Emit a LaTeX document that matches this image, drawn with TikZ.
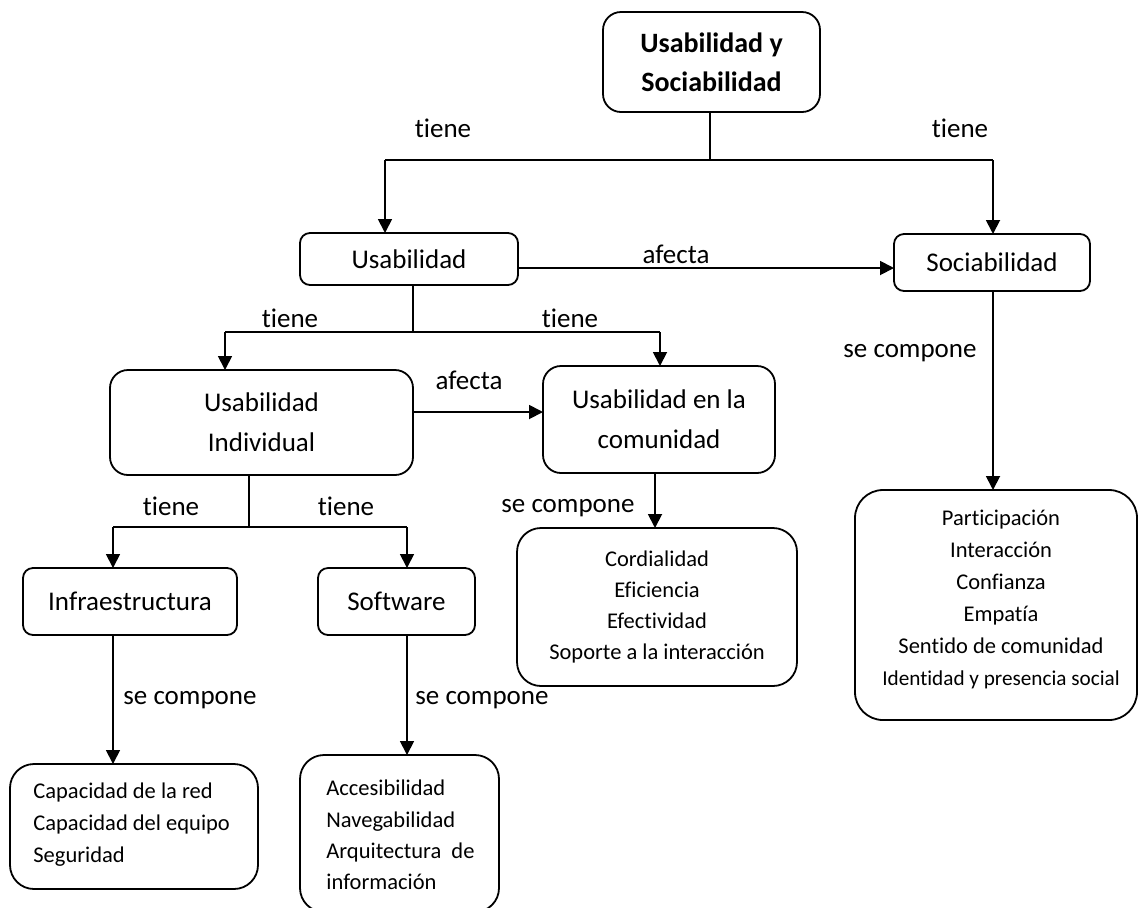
\documentclass[tikz,border=0pt]{standalone}
\usepackage{fontspec}
\setmainfont{Carlito}[Ligatures=NoCommon]
\usetikzlibrary{arrows.meta}
\begin{document}
\begin{tikzpicture}[x=0.5pt,y=-0.5pt,
  box/.style={draw, line width=0.9pt, rounded corners=#1, inner sep=0pt, outer sep=0pt, align=center},
  box/.default=5pt,
  conn/.style={line width=0.9pt},
  arr/.style={conn, -{Triangle[length=7pt,width=7pt]}},
  big/.style={font=\fontsize{13.5}{20}\selectfont},
  lbl/.style={big, inner sep=0pt},
  listtext/.style={inner sep=0pt, font=\fontsize{11.25}{#1}\selectfont},
  ]
\useasboundingbox (0,0) rectangle (1140,907);

% boxes
\node[box=9pt, minimum width=108.5pt, minimum height=50pt,
      font=\bfseries\fontsize{14}{19.5}\selectfont] (title) at (711.5,62) {Usabilidad y\\Sociabilidad};
\node[box, big, minimum width=109pt, minimum height=26pt] (usab) at (409,259) {Usabilidad};
\node[box, big, minimum width=98pt, minimum height=28.5pt] (socia) at (992,262.5) {Sociabilidad};
\node[box=9pt, big, minimum width=151.5pt, minimum height=52.5pt] (usabInd) at (261.5,422.5) {Usabilidad\\Individual};
\node[box=9pt, big, minimum width=116pt, minimum height=53.5pt] (usabCom) at (659,419.5) {Usabilidad en la\\comunidad};
\node[box, big, minimum width=107pt, minimum height=33.5pt] (infra) at (130,601.5) {Infraestructura};
\node[box, big, minimum width=78.5pt, minimum height=33.5pt] (soft) at (396.5,601.5) {Software};
\node[box=12pt, minimum width=124pt, minimum height=62.5pt] (capac) at (134,826.5) {};
\node[box=12pt, minimum width=99.5pt, minimum height=78.5pt] (acces) at (399.5,833.5) {};
\node[box=12pt, minimum width=140pt, minimum height=79pt] (cordial) at (657,607) {};
\node[box=14pt, minimum width=141pt, minimum height=115pt] (partic) at (996,605) {};

% list contents
\node[listtext=16pt, align=left, anchor=west] (capacT) at (33,825)
  {Capacidad de la red\\Capacidad del equipo\\Seguridad};
\node[listtext=15.75pt, align=left, anchor=west] (accesT) at (326,835)
  {Accesibilidad\\Navegabilidad\\Arquitectura\ \ de\\información};
\node[listtext=15.5pt, align=center] (cordialT) at (657,606.5)
  {Cordialidad\\Eficiencia\\Efectividad\\Soporte a la interacción};
\node[listtext=16pt, align=center] (particT) at (1001,599)
  {Participación\\Interacción\\Confianza\\Empatía\\Sentido de comunidad\\
   {\fontsize{10.6}{16}\selectfont Identidad y presencia social}};

% junction points
\coordinate (tj) at (710,160);
\coordinate (tl) at (385,160);
\coordinate (tr) at (993,160);
\coordinate (uj) at (413,332);
\coordinate (ul) at (225,332);
\coordinate (ur) at (660,332);
\coordinate (ij) at (249,527);
\coordinate (il) at (113,527);
\coordinate (ir) at (407,527);
\coordinate (yA) at (0,268);
\coordinate (yB) at (0,412);
\coordinate (xC) at (655,0);
\coordinate (xI) at (113,0);
\coordinate (xS) at (407,0);
\coordinate (xP) at (993,0);

% connectors
\draw[conn] (title.south -| tj) -- (tj);
\draw[conn] (tl) -- (tr);
\draw[arr] (tl) -- (usab.north -| tl);
\draw[arr] (tr) -- (socia.north -| tr);
\draw[arr] (usab.east |- yA) -- (socia.west |- yA);

\draw[conn] (usab.south -| uj) -- (uj);
\draw[conn] (ul) -- (ur);
\draw[arr] (ul) -- (usabInd.north -| ul);
\draw[arr] (ur) -- (usabCom.north -| ur);
\draw[arr] (usabInd.east |- yB) -- (usabCom.west |- yB);
\draw[arr] (usabCom.south -| xC) -- (cordial.north -| xC);

\draw[conn] (usabInd.south -| ij) -- (ij);
\draw[conn] (il) -- (ir);
\draw[arr] (il) -- (infra.north -| il);
\draw[arr] (ir) -- (soft.north -| ir);
\draw[arr] (infra.south -| xI) -- (capac.north -| xI);
\draw[arr] (soft.south -| xS) -- (acces.north -| xS);
\draw[arr] (socia.south -| xP) -- (partic.north -| xP);

% connector labels
\node[lbl] (l1) at (443,128) {tiene};
\node[lbl] (l2) at (960,128) {tiene};
\node[lbl] (l3) at (676,254) {afecta};
\node[lbl] (l4) at (290,318) {tiene};
\node[lbl] (l5) at (570,318) {tiene};
\node[lbl] (l6) at (469,380) {afecta};
\node[lbl] (l7) at (171,506) {tiene};
\node[lbl] (l8) at (346,506) {tiene};
\node[lbl] (l9) at (568,508) {se compone};
\node[lbl] (l10) at (190,700) {se compone};
\node[lbl] (l11) at (482,700) {se compone};
\node[lbl] (l12) at (910,353) {se compone};
\end{tikzpicture}
\end{document}
